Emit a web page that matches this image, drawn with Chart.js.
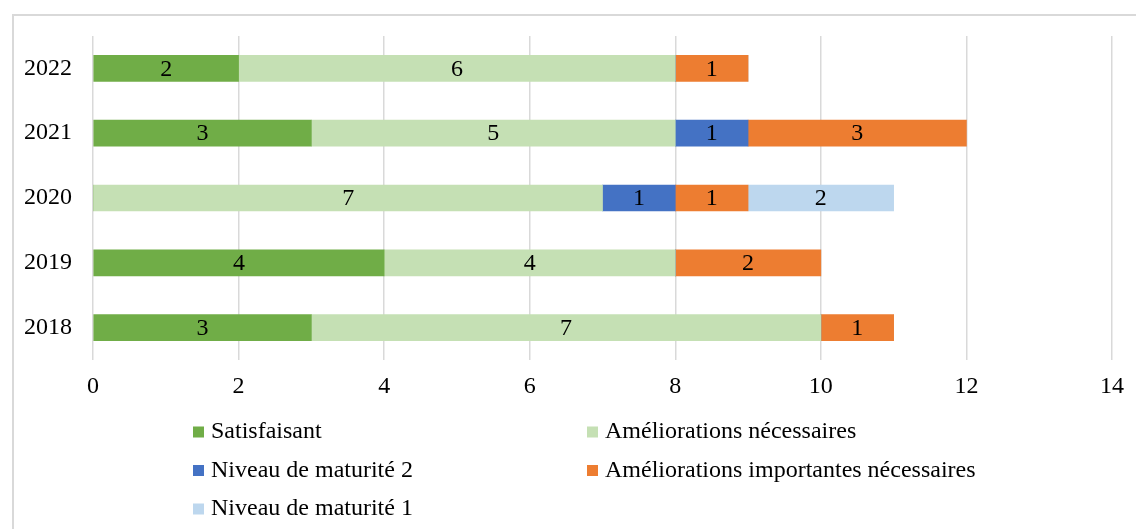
<!DOCTYPE html>
<html>
<head>
<meta charset="utf-8">
<script src="https://cdn.jsdelivr.net/npm/chart.js@4"></script>
<style>
    html, body { margin: 0; padding: 0; background: #fff; overflow: hidden; }
    .frame {
        position: absolute; left: 12px; top: 14px;
        width: 1140px; height: 530px;
        border: 2px solid #d9d9d9;
    }
    .wrap { position: absolute; left: 0; top: 0; width: 1136px; height: 529px; }
</style>
</head>
<body>
<div class="frame"></div>
<div class="wrap"><canvas id="Chart1"></canvas></div>
<script>
const years = ['2022', '2021', '2020', '2019', '2018'];
const xTicks = [0, 2, 4, 6, 8, 10, 12, 14];

const satisfaisant = [2, 3, 0, 4, 3];
const ameliorations = [6, 5, 7, 4, 7];
const maturite2 = [0, 1, 1, 0, 0];
const importantes = [1, 3, 1, 2, 1];
const maturite1 = [0, 0, 2, 0, 0];

const seriesNames = [
    'Satisfaisant',
    'Améliorations nécessaires',
    'Niveau de maturité 2',
    'Améliorations importantes nécessaires',
    'Niveau de maturité 1'
];
const seriesColors = ['#70AD47', '#C5E0B4', '#4472C4', '#ED7D31', '#BDD7EE'];
const seriesData = [satisfaisant, ameliorations, maturite2, importantes, maturite1];

const serif = '"Liberation Serif", "Times New Roman", serif';
const fontSize = 24;

// values written in the middle of each segment
const valueLabels = {
    id: 'valueLabels',
    afterDatasetsDraw(chart) {
        const ctx = chart.ctx;
        ctx.save();
        ctx.font = fontSize + 'px ' + serif;
        ctx.fillStyle = '#000';
        ctx.textAlign = 'center';
        ctx.textBaseline = 'middle';
        chart.data.datasets.forEach((ds, i) => {
            chart.getDatasetMeta(i).data.forEach((bar, j) => {
                const v = ds.data[j];
                if (!v) return;
                const p = bar.getCenterPoint();
                ctx.fillText(v, p.x, p.y + 1);
            });
        });
        ctx.restore();
    }
};

// two-column legend under the axis
const gridLegend = {
    id: 'gridLegend',
    afterDraw(chart) {
        const ctx = chart.ctx;
        const cols = [193, 587];
        const rowTop = 432;
        const rowStep = 38.5;
        ctx.save();
        ctx.font = fontSize + 'px ' + serif;
        ctx.textBaseline = 'middle';
        ctx.textAlign = 'left';
        chart.data.datasets.forEach((ds, i) => {
            const x = cols[i % 2];
            const y = rowTop + Math.floor(i / 2) * rowStep;
            ctx.fillStyle = ds.backgroundColor;
            ctx.fillRect(x, y - 5.5, 11, 11);
            ctx.fillStyle = '#000';
            ctx.fillText(ds.label, x + 18, y);
        });
        ctx.restore();
    }
};

const ctx1 = document.getElementById('Chart1').getContext('2d');

new Chart(ctx1, {
    type: 'bar',
    data: {
        labels: years,
        datasets: seriesNames.map((name, i) => ({
            label: name,
            data: seriesData[i],
            backgroundColor: seriesColors[i],
            borderWidth: 0,
            barThickness: 26
        }))
    },
    options: {
        indexAxis: 'y',
        responsive: true,
        maintainAspectRatio: false,
        animation: false,
        layout: {
            padding: { top: 36, right: 18, bottom: 119, left: 0 }
        },
        plugins: {
            legend: { display: false },
            tooltip: { enabled: false }
        },
        scales: {
            x: {
                stacked: true,
                min: 0,
                max: 14,
                afterBuildTicks(scale) {
                    scale.ticks = xTicks.map(v => ({ value: v }));
                },
                afterFit(scale) { scale.height = 50; },
                grid: { color: '#d9d9d9', lineWidth: 1.5, drawTicks: false },
                border: { display: false },
                ticks: {
                    color: '#000',
                    padding: 12,
                    font: { family: serif, size: fontSize }
                }
            },
            y: {
                stacked: true,
                afterFit(scale) { scale.width = 93; },
                grid: { display: false, drawTicks: false },
                border: { display: false },
                ticks: {
                    color: '#000',
                    padding: 21,
                    font: { family: serif, size: fontSize }
                }
            }
        }
    },
    plugins: [valueLabels, gridLegend]
});
</script>
</body>
</html>
